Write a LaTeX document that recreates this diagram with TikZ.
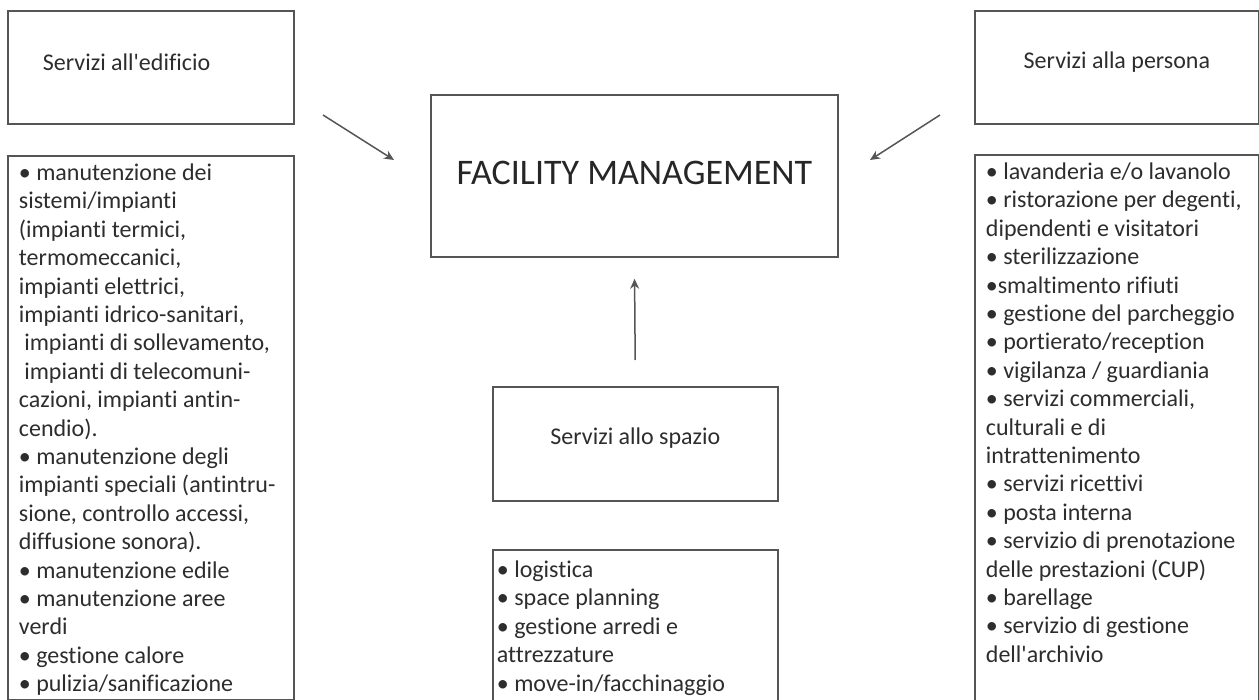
\documentclass[tikz,border=0pt]{standalone}
\usepackage{fontspec}
\setmainfont{Carlito}[Ligatures={NoCommon}]
\usetikzlibrary{arrows.meta,positioning}

\definecolor{linea}{RGB}{85,85,85}
\definecolor{testo}{RGB}{45,45,45}

% lista di voci allineata in alto dentro un riquadro di altezza fissa
\newcommand{\elenco}[3]{\parbox[c][#1][t]{#2}{\begin{tabular}[t]{@{}l@{}}#3\end{tabular}}}

\tikzset{
  scatola/.style={draw=linea, line width=1.8pt, anchor=north west, text=testo,
    font=\fontsize{24}{28.4}\selectfont},
  titolo/.style={scatola, minimum height=113pt, text height=18pt, text depth=16pt},
  lista/.style={scatola, inner xsep=11pt, inner ysep=5pt},
  freccia/.style={draw=linea, line width=1.5pt, -{Stealth[length=10pt,width=9pt]}},
}

\begin{document}
\begin{tikzpicture}[x=1pt,y=-1pt]
  \useasboundingbox (0,0) rectangle (1259,700);

  \node[titolo, minimum width=286pt, inner xsep=35pt]
    (edificio) at (7,10) {\parbox{216pt}{Servizi all\textquotesingle edificio}};
  \node[lista, below=30pt of edificio.south west, anchor=north west] (edificiolista)
    {\elenco{534pt}{264pt}{%
      • manutenzione dei\\
      sistemi/impianti\\
      (impianti termici,\\
      termomeccanici,\\
      impianti elettrici,\\
      impianti idrico-sanitari,\\
      \ impianti di sollevamento,\\
      \ impianti di telecomuni-\\
      cazioni, impianti antin-\\
      cendio).\\
      • manutenzione degli\\
      impianti speciali (antintru-\\
      sione, controllo accessi,\\
      diffusione sonora).\\
      • manutenzione edile\\
      • manutenzione aree\\
      verdi\\
      • gestione calore\\
      • pulizia/sanificazione}};

  \node[titolo, minimum width=284pt] (persona) at (974,10) {Servizi alla persona};
  \node[lista, below=29pt of persona.south west, anchor=north west] (personalista)
    {\elenco{536pt}{262pt}{%
      • lavanderia e/o lavanolo\\
      • ristorazione per degenti,\\
      dipendenti e visitatori\\
      • sterilizzazione\\
      •smaltimento rifiuti\\
      • gestione del parcheggio\\
      • portierato/reception\\
      • vigilanza / guardiania\\
      • servizi commerciali,\\
      culturali e di\\
      intrattenimento\\
      • servizi ricettivi\\
      • posta interna\\
      • servizio di prenotazione\\
      delle prestazioni (CUP)\\
      • barellage\\
      • servizio di gestione\\
      dell\textquotesingle archivio}};

  \node[scatola, minimum width=407pt, minimum height=162pt, text=black!85,
    text depth=6pt, font=\fontsize{36}{40}\selectfont] (fm) at (430,94)
    {FACILITY MANAGEMENT};

  \node[titolo, minimum width=285pt, minimum height=114pt] (spazio) at (492,386)
    {Servizi allo spazio};
  \node[lista, inner xsep=4pt, inner ysep=8pt, below=47pt of spazio.south west,
    anchor=north west] (spaziolista)
    {\elenco{142pt}{277pt}{%
      • logistica\\
      • space planning\\
      • gestione arredi e\\
      attrezzature\\
      • move-in/facchinaggio}};

  \coordinate (e1) at (323,115);
  \coordinate (e2) at (394,160);
  \coordinate (p1) at (940,115);
  \coordinate (p2) at (870,160);

  \draw[freccia] (e1) -- (e2);
  \draw[freccia] (p1) -- (p2);
  \draw[freccia, shorten <=26pt, shorten >=21pt] (spazio.north) -- (fm.south);
\end{tikzpicture}
\end{document}
